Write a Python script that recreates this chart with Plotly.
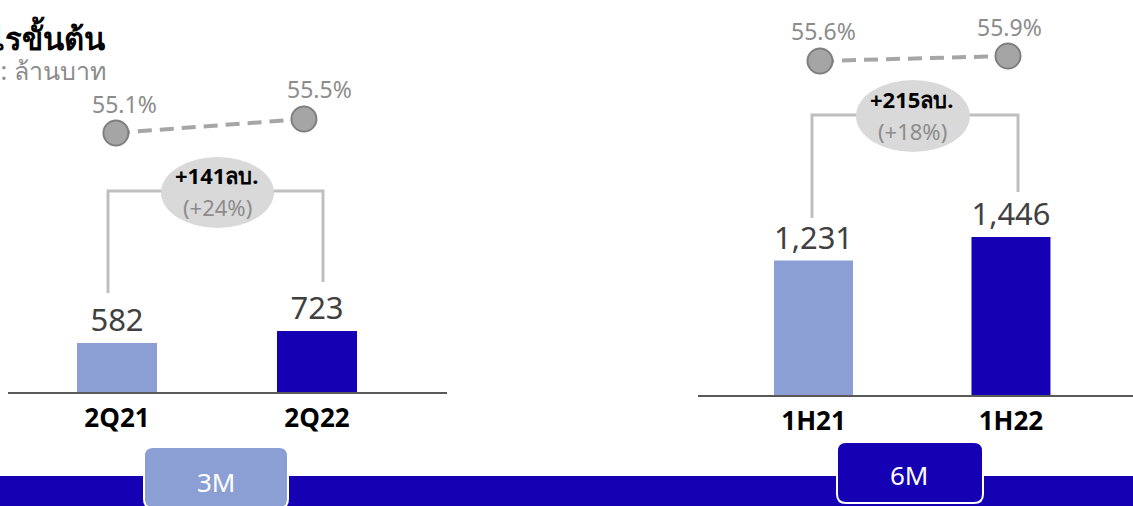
import plotly.graph_objects as go

W, H = 1133, 506

# ---------------- data ----------------
cats_q = ["2Q21", "2Q22"]
gp_q = [582, 723]
margin_q = [55.1, 55.5]
diff_q = "+141ลบ."
diff_q_pct = "(+24%)"

cats_h = ["1H21", "1H22"]
gp_h = [1231, 1446]
margin_h = [55.6, 55.9]
diff_h = "+215ลบ."
diff_h_pct = "(+18%)"

title_text = "กำไรขั้นต้น"
unit_text = "หน่วย : ล้านบาท"
tab_labels = ["3M", "6M"]

LIGHT = "#8B9FD4"
DARK = "#1500B4"
GRAY_TXT = "#8C8C8C"
NUM_FONT = "Noto Sans, Open Sans, DejaVu Sans, sans-serif"
THAI_FONT = "Noto Sans, DejaVu Sans, sans-serif"


def px(x):
    return x / W


def py(y):
    return 1 - y / H


fig = go.Figure()

# bars
fig.add_trace(go.Bar(x=cats_q, y=gp_q, marker=dict(color=[LIGHT, DARK], line=dict(width=0)),
                     width=0.4, text=gp_q, texttemplate="%{y:,}", textposition="outside",
                     textfont=dict(size=31, color="#404040", family=NUM_FONT),
                     cliponaxis=False, xaxis="x", yaxis="y", hoverinfo="skip"))
fig.add_trace(go.Bar(x=cats_h, y=gp_h, marker=dict(color=[LIGHT, DARK], line=dict(width=0)),
                     width=0.4, text=gp_h, texttemplate="%{y:,}", textposition="outside",
                     textfont=dict(size=31, color="#404040", family=NUM_FONT),
                     cliponaxis=False, xaxis="x2", yaxis="y2", hoverinfo="skip"))

# margin lines
for xa, ya, cats, vals in [("x3", "y3", cats_q, margin_q), ("x4", "y4", cats_h, margin_h)]:
    fig.add_trace(go.Scatter(x=cats, y=vals, mode="lines+markers", xaxis=xa, yaxis=ya,
                             line=dict(color="#A6A6A6", width=4, dash="14px,8px"),
                             marker=dict(size=25, color="#A5A5A5",
                                         line=dict(color="#7F7F7F", width=2)),
                             cliponaxis=False, hoverinfo="skip"))

# percentage labels
pct_shifts = [(9, 29), (16, 30)]
for c, v, (dx, dy) in zip(cats_q, margin_q, pct_shifts):
    fig.add_annotation(x=c, y=v, xref="x3", yref="y3", text=f"{v:.1f}%", showarrow=False,
                       xshift=dx, yshift=dy, font=dict(size=23, color=GRAY_TXT, family=NUM_FONT))
pct_shifts_h = [(3, 30), (2, 29)]
for c, v, (dx, dy) in zip(cats_h, margin_h, pct_shifts_h):
    fig.add_annotation(x=c, y=v, xref="x4", yref="y4", text=f"{v:.1f}%", showarrow=False,
                       xshift=dx, yshift=dy, font=dict(size=23, color=GRAY_TXT, family=NUM_FONT))

shapes = []
# brackets
for (xl, ybl, yt, xr, ybr) in [(108, 293, 191, 323, 282), (812, 218, 115, 1018, 192)]:
    path = f"M{px(xl)},{py(ybl)} L{px(xl)},{py(yt)} L{px(xr)},{py(yt)} L{px(xr)},{py(ybr)}"
    shapes.append(dict(type="path", xref="paper", yref="paper", path=path,
                       line=dict(color="#BFBFBF", width=3)))
# ellipses
for (x0, y0, x1, y1) in [(161, 157, 274, 228), (856, 80, 970, 152)]:
    shapes.append(dict(type="circle", xref="paper", yref="paper", x0=px(x0), x1=px(x1),
                       y0=py(y1), y1=py(y0), fillcolor="#D9D9D9", line=dict(width=0)))

# bottom band
shapes.append(dict(type="rect", xref="paper", yref="paper", x0=0, x1=1, y0=py(506), y1=py(476),
                   fillcolor=DARK, line=dict(width=0)))


def rrect(x0, y0, x1, y1, r):
    pts = [
        ("M", x0 + r, y0), ("L", x1 - r, y0), ("Q", x1, y0, x1, y0 + r),
        ("L", x1, y1 - r), ("Q", x1, y1, x1 - r, y1), ("L", x0 + r, y1),
        ("Q", x0, y1, x0, y1 - r), ("L", x0, y0 + r), ("Q", x0, y0, x0 + r, y0),
    ]
    out = []
    for p in pts:
        cmd = p[0]
        coords = p[1:]
        s = " ".join(f"{px(coords[i])},{py(coords[i + 1])}" for i in range(0, len(coords), 2))
        out.append(f"{cmd}{s}")
    return " ".join(out) + " Z"


shapes.append(dict(type="path", xref="paper", yref="paper", path=rrect(144, 447, 288, 508, 9),
                   fillcolor=LIGHT, line=dict(color="white", width=2)))
shapes.append(dict(type="path", xref="paper", yref="paper", path=rrect(837, 442, 983, 503, 9),
                   fillcolor=DARK, line=dict(color="white", width=2)))

# tab labels
fig.add_annotation(x=px(216), y=py(482), xref="paper", yref="paper", text=tab_labels[0],
                   xanchor="center", yanchor="middle",
                   showarrow=False, font=dict(size=26, color="white", family=NUM_FONT))
fig.add_annotation(x=px(909), y=py(475), xref="paper", yref="paper", text=tab_labels[1],
                   xanchor="center", yanchor="middle",
                   showarrow=False, font=dict(size=26, color="white", family=NUM_FONT))

# difference labels
for (cx, y1, y2, t1, t2) in [(217, 175, 207, diff_q, diff_q_pct), (912, 99, 131, diff_h, diff_h_pct)]:
    fig.add_annotation(x=px(cx), y=py(y1), xref="paper", yref="paper", text=f"<b>{t1}</b>",
                       xanchor="center", yanchor="middle", showarrow=False,
                       font=dict(size=22, color="black", family=THAI_FONT))
    fig.add_annotation(x=px(cx), y=py(y2), xref="paper", yref="paper", text=t2,
                       xanchor="center", yanchor="middle", showarrow=False,
                       font=dict(size=22, color=GRAY_TXT, family=NUM_FONT))

# title (clipped at left edge like the reference)
fig.add_annotation(x=px(107), y=py(37), xref="paper", yref="paper", text=f"<b>{title_text}</b>",
                   xanchor="right", yanchor="middle", showarrow=False,
                   font=dict(size=31, color="black", family=THAI_FONT))
fig.add_annotation(x=px(108), y=py(70), xref="paper", yref="paper", text=unit_text,
                   xanchor="right", yanchor="middle", showarrow=False,
                   font=dict(size=25, color=GRAY_TXT, family=THAI_FONT))

tickfont = dict(size=26, color="black", family="Open Sans, sans-serif", weight="bold")

fig.update_layout(
    width=W, height=H, margin=dict(l=0, r=0, t=0, b=0),
    paper_bgcolor="white", plot_bgcolor="rgba(0,0,0,0)", showlegend=False,
    shapes=shapes,
    xaxis=dict(domain=[px(8), px(447)], range=[-0.545, 1.65], anchor="y", showline=True,
               linecolor="#595959", linewidth=1.5, showgrid=False, zeroline=False,
               tickfont=tickfont, ticklabelstandoff=2, fixedrange=True),
    yaxis=dict(domain=[1 - 392 / H, 1], range=[0, 4646], visible=False, anchor="x"),
    xaxis2=dict(domain=[px(698), 1], range=[-0.585, 1.618], anchor="y2", showline=True,
                linecolor="#595959", linewidth=1.5, showgrid=False, zeroline=False,
                tickfont=tickfont, ticklabelstandoff=2),
    yaxis2=dict(domain=[1 - 395 / H, 1], range=[0, 3615], visible=False, anchor="x2"),
    xaxis3=dict(domain=[px(8), px(447)], range=[-0.574, 1.761], anchor="y3", visible=False),
    yaxis3=dict(domain=[0, 1], range=[44.443, 58.9], visible=False, anchor="x3"),
    xaxis4=dict(domain=[px(698), 1], range=[-0.649, 1.665], anchor="y4", visible=False),
    yaxis4=dict(domain=[0, 1], range=[28.9, 59.26], visible=False, anchor="x4"),
)

fig.write_html("out.html", config={"displayModeBar": False},
               post_script="document.body.style.margin='0';")
